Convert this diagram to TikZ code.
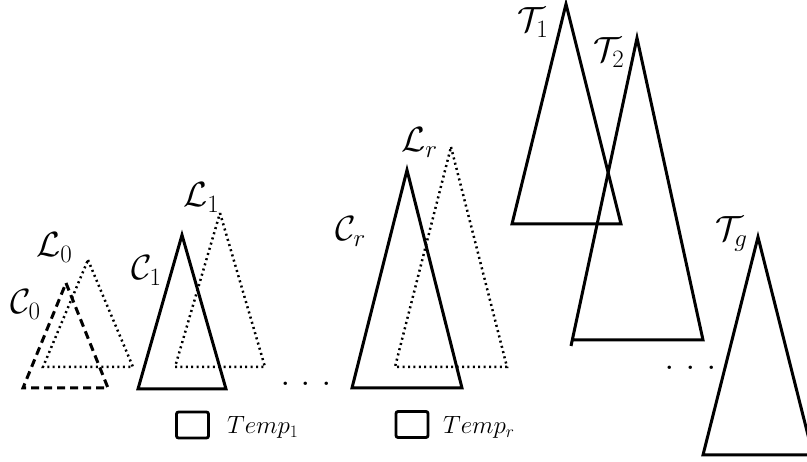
\RequirePackage{fix-cm}
\documentclass[tikz,border=0pt]{standalone}
\DeclareMathSizes{35}{35}{25}{18}
\begin{document}
\begin{tikzpicture}[x=1pt,y=-1pt,
  tri/.style={line width=3pt, line join=miter},
  dashtri/.style={line width=3pt, dash pattern=on 8pt off 5pt},
  dottri/.style={line width=2.5pt, dash pattern=on 2pt off 3.4pt},
  lbl/.style={inner sep=0pt, anchor=base west, font=\fontsize{35}{40}\selectfont},
  tmp/.style={inner sep=0pt, anchor=base west, font=\fontsize{25}{30}\selectfont},
  tbox/.style={draw, line width=2.8pt, rounded corners=2pt, minimum width=32pt, minimum height=26pt, inner sep=0pt},
  dotrow/.style={inner sep=0pt, anchor=base west, font=\fontsize{42}{48}\selectfont}]
\useasboundingbox (0,0) rectangle (807,462);
\clip (0,0) rectangle (807,462);
% level 0
\draw[dottri] (88,260) -- (133,367) -- (43,367) -- cycle;
\draw[dashtri] (66,283) -- (108,388) -- (23,388) -- cycle;
% level 1
\draw[dottri] (220,213) -- (265,367) -- (175,367) -- cycle;
\draw[tri] (182,235) -- (226,389) -- (138,389) -- cycle;
% level r
\draw[dottri] (451,147) -- (507,367) -- (395,367) -- cycle;
\draw[tri] (407,170) -- (462,388) -- (352,388) -- cycle;
% T triangles
\draw[tri] (566,4) -- (621,224) -- (512,224) -- cycle;
\draw[tri] (572,340) -- (703,340) -- (637,38) -- (571,346);
\draw[tri] (758,237) -- (813,455) -- (703,455) -- cycle;
% labels
\node[lbl] (c0) at (10,314) {$\mathcal{C}_0$};
\node[lbl] (l0) at (36,257) {$\mathcal{L}_0$};
\node[lbl] (c1) at (131,280) {$\mathcal{C}_1$};
\node[lbl] (l1) at (183,207) {$\mathcal{L}_1$};
\node[lbl] (cr) at (335,241) {$\mathcal{C}_r$};
\node[lbl] (lr) at (401,152) {$\mathcal{L}_r$};
\node[lbl] (t1) at (517,32) {$\mathcal{T}_1$};
\node[lbl] (t2) at (593,62) {$\mathcal{T}_2$};
\node[lbl] (tg) at (715,241) {$\mathcal{T}_g$};
% dots
\node[dotrow] (d1) at (280,386) {.\hspace{10.3pt}.\hspace{10.3pt}.};
\node[dotrow] (d2) at (664,370) {.\hspace{10.8pt}.\hspace{10.8pt}.};
% temp boxes
\node[tbox] (b1) at (192.5,425) {};
\node[tmp] (tp1) at (227,434) {$Temp_1$};
\node[tbox] (b2) at (412,424.5) {};
\node[tmp] (tpr) at (443,434) {$Temp_r$};
\end{tikzpicture}
\end{document}
